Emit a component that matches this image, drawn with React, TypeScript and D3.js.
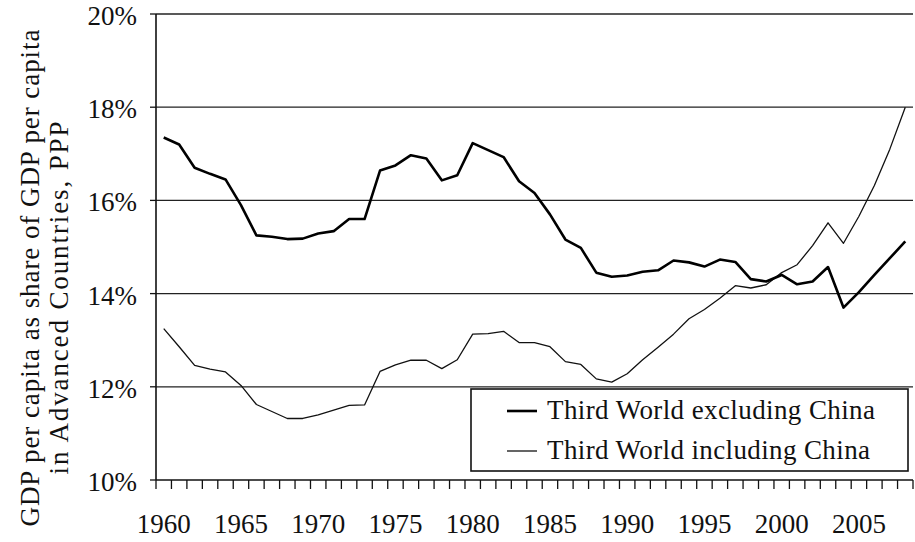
import React from "react";
import * as d3 from "d3";

const years: number[] = d3.range(1960, 2009);
const yearLabels: number[] = [1960, 1965, 1970, 1975, 1980, 1985, 1990, 1995, 2000, 2005];
const yTicks: number[] = [10, 12, 14, 16, 18, 20];

const exclChina: number[] = [
  17.35, 17.2, 16.7, 16.57, 16.45, 15.9, 15.25, 15.22, 15.17, 15.18,
  15.29, 15.34, 15.6, 15.6, 16.64, 16.75, 16.97, 16.9, 16.43, 16.54,
  17.23, 17.08, 16.93, 16.41, 16.16, 15.7, 15.16, 14.98, 14.45, 14.36,
  14.39, 14.47, 14.5, 14.71, 14.67, 14.58, 14.73, 14.68, 14.31, 14.26,
  14.4, 14.2, 14.26, 14.57, 13.7, 14.03, 14.4, 14.76, 15.12,
];

const inclChina: number[] = [
  13.25, 12.86, 12.46, 12.38, 12.32, 12.03, 11.62, 11.47, 11.32, 11.32,
  11.4, 11.5, 11.6, 11.61, 12.33, 12.47, 12.57, 12.57, 12.39, 12.58,
  13.13, 13.14, 13.19, 12.95, 12.95, 12.86, 12.54, 12.48, 12.17, 12.1,
  12.28, 12.58, 12.85, 13.13, 13.46, 13.66, 13.9, 14.17, 14.12, 14.19,
  14.45, 14.62, 15.03, 15.52, 15.08, 15.66, 16.32, 17.1, 18.0,
];

const seriesNames = ["Third World excluding China", "Third World including China"];
const yTitle = ["GDP per capita as share of GDP per capita", "in Advanced Countries, PPP"];

const W = 915;
const H = 542;
const left = 156;
const right = 913;
const top = 14;
const bottom = 480;
const FAM = "Liberation Serif";

function T(props: any) {
  const { children, ...rest } = props;
  return (
    <text fontFamily={FAM} style={{ fontFamily: FAM }} fill="#111" fontSize={27} {...rest}>
      {children}
    </text>
  );
}

export default function App() {
  const x = d3.scaleBand<number>().domain(years).range([left, right]);
  const y = d3.scaleLinear().domain([10, 20]).range([bottom, top]);
  const bw = x.bandwidth();
  const cx = (yr: number) => (x(yr) as number) + bw / 2;

  const line = d3
    .line<number>()
    .x((_, i) => cx(years[i]))
    .y((v) => y(v));

  const tickXs = years.map((yr) => x(yr) as number).concat([right]);

  return (
    <div style={{ position: "absolute", left: 0, top: 0, fontFamily: FAM }}>
      <svg width={W} height={H} style={{ display: "block", background: "#fff", fontFamily: FAM }}>
        <style>{`text { font-family: "Liberation Serif"; }`}</style>
        <rect x={0} y={0} width={W} height={H} fill="#fff" />
        {yTicks.filter((t) => t > 10).map((t) => (
          <line key={t} x1={left} x2={right} y1={y(t)} y2={y(t)} stroke="#222" strokeWidth={1.3} />
        ))}
        {yTicks.map((t) => (
          <g key={"yt" + t}>
            <line x1={left - 6} x2={left} y1={y(t)} y2={y(t)} stroke="#111" strokeWidth={1.3} />
            <T x={137} y={y(t) + 11} textAnchor="end">
              {`${t}%`}
            </T>
          </g>
        ))}
        <line x1={left} x2={left} y1={top} y2={bottom} stroke="#111" strokeWidth={1.6} />
        <line x1={left} x2={right} y1={bottom} y2={bottom} stroke="#111" strokeWidth={1.6} />
        {tickXs.map((tx, i) => (
          <line key={"xt" + i} x1={tx} x2={tx} y1={bottom} y2={bottom + 9} stroke="#111" strokeWidth={1.3} />
        ))}
        {yearLabels.map((yr) => (
          <T key={"xl" + yr} x={cx(yr)} y={533} textAnchor="middle">
            {String(yr)}
          </T>
        ))}
        <T transform="translate(39,278) rotate(-90)" textAnchor="middle" textLength={497} lengthAdjust="spacing">
          {yTitle[0]}
        </T>
        <T transform="translate(68,298) rotate(-90)" textAnchor="middle" textLength={353} lengthAdjust="spacing">
          {yTitle[1]}
        </T>
        <path d={line(inclChina) || ""} fill="none" stroke="#111" strokeWidth={1.3} strokeLinejoin="round" />
        <path d={line(exclChina) || ""} fill="none" stroke="#000" strokeWidth={2.6} strokeLinejoin="round" />
        <rect x={471} y={389} width={437} height={82} fill="#fff" stroke="#111" strokeWidth={1.6} />
        <line x1={507} x2={537} y1={411} y2={411} stroke="#000" strokeWidth={2.6} />
        <line x1={507} x2={537} y1={451} y2={451} stroke="#111" strokeWidth={1.3} />
        <T x={547} y={419} textLength={328} lengthAdjust="spacing">
          {seriesNames[0]}
        </T>
        <T x={547} y={459} textLength={323} lengthAdjust="spacing">
          {seriesNames[1]}
        </T>
      </svg>
    </div>
  );
}
